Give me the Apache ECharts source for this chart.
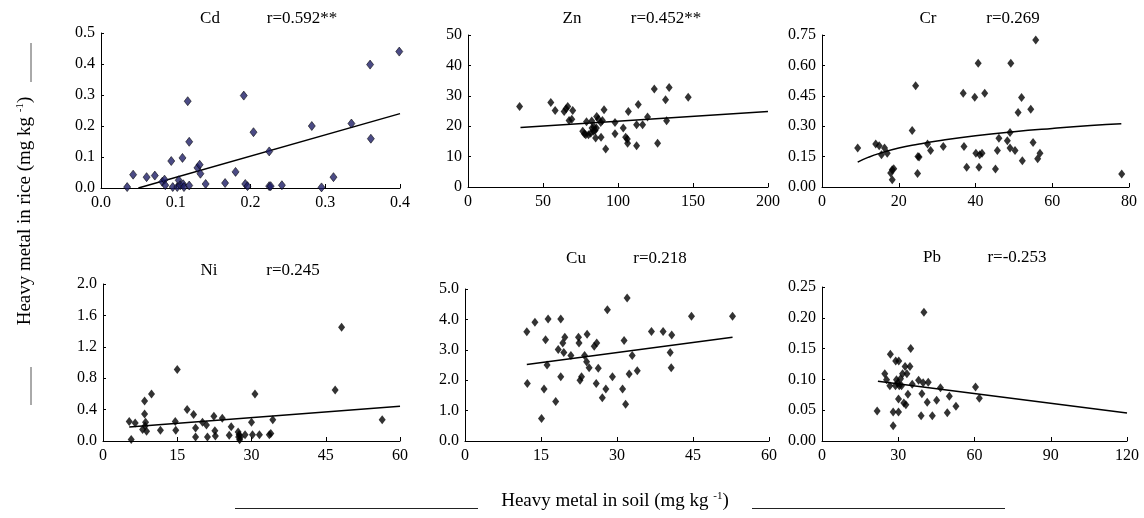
<!DOCTYPE html>
<html>
<head>
<meta charset="utf-8">
<script src="https://cdn.jsdelivr.net/npm/echarts@6/dist/echarts.min.js"></script>
<style>html,body{margin:0;padding:0;background:#fff;}#c{width:1144px;height:518px;}</style>
</head>
<body>
<div id="c"></div>
<script>
// ---- data (soil, rice) ----
const cdPoints = [[0.035,0.003],[0.043,0.043],[0.061,0.035],[0.072,0.04],[0.082,0.02],[0.085,0.027],[0.086,0.009],[0.094,0.087],[0.096,0.003],[0.102,0.003],[0.104,0.025],[0.106,0.009],[0.109,0.097],[0.11,0.012],[0.111,0.003],[0.116,0.28],[0.118,0.008],[0.118,0.149],[0.129,0.065],[0.132,0.075],[0.133,0.046],[0.14,0.013],[0.166,0.016],[0.18,0.052],[0.191,0.298],[0.193,0.013],[0.196,0.006],[0.204,0.18],[0.225,0.118],[0.225,0.006],[0.227,0.006],[0.242,0.009],[0.282,0.2],[0.295,0.002],[0.311,0.035],[0.335,0.208],[0.36,0.398],[0.361,0.159],[0.399,0.44]];
const cdTrend = [[0.05,0],[0.4,0.24]];

const znPoints = [[34.4,26.5],[55.2,27.8],[58.1,25.2],[64.1,24.8],[65.4,25.7],[66.5,26.5],[67.4,21.9],[69.2,22.3],[69.8,25.2],[76.5,18.3],[77.6,17.5],[78.5,17.2],[79,21.5],[80.3,17.2],[81.8,17.7],[82.5,21.7],[82.7,19.4],[83.6,18.3],[84,19.7],[84.7,18.6],[85.1,16.1],[85.6,19.4],[85.8,23.2],[86.9,22.4],[88.5,21.2],[88.7,16.4],[89.6,21.9],[90.7,25.4],[91.8,12.5],[98,21.2],[98,17.5],[103.5,19.4],[105.1,16.4],[106.2,15.8],[106.4,14.4],[106.9,24.8],[112.4,20.5],[112.4,13.6],[113.5,27.1],[116.4,20.5],[119.7,23],[124.2,32.2],[126.4,14.4],[131.7,28.7],[132.4,21.8],[134.1,32.7],[146.8,29.5]];
const znTrend = [[35,19.6],[200,24.8]];

const crPoints = [[9.3,0.192],[14,0.212],[14.9,0.204],[15.5,0.159],[16.3,0.192],[17,0.167],[17.9,0.069],[18.3,0.085],[18.3,0.036],[18.7,0.09],[23.5,0.279],[24.4,0.5],[24.9,0.066],[25,0.151],[25.3,0.148],[27.5,0.212],[28.3,0.18],[31.6,0.2],[36.8,0.463],[37,0.2],[37.7,0.097],[39.8,0.443],[40.1,0.167],[40.7,0.61],[40.9,0.097],[41.1,0.159],[41.7,0.167],[42.4,0.463],[45.2,0.089],[45.7,0.18],[46.1,0.241],[48.3,0.228],[49,0.269],[49,0.192],[49.2,0.61],[50.3,0.18],[51.1,0.368],[52.2,0.13],[52,0.441],[54.4,0.384],[55,0.22],[55.7,0.725],[56.2,0.14],[56.8,0.167],[78.1,0.064]];
const crTrend = [[9.3,0.123],[12,0.146],[15,0.166],[20,0.192],[25,0.211],[30,0.227],[40,0.253],[50,0.273],[60,0.289],[70,0.303],[78,0.312]];

const niPoints = [[5.3,0.25],[5.7,0.02],[6.5,0.23],[8,0.145],[8.4,0.51],[8.4,0.345],[8.5,0.19],[8.6,0.24],[8.8,0.124],[9.8,0.6],[11.6,0.136],[14.6,0.247],[14.7,0.136],[15,0.91],[17,0.4],[18.3,0.337],[18.7,0.166],[18.7,0.051],[20.1,0.24],[20.9,0.205],[21.1,0.051],[22.4,0.316],[22.6,0.132],[22.7,0.064],[24.1,0.29],[25.5,0.072],[25.9,0.18],[27.3,0.115],[27.4,0.051],[27.5,0.081],[27.6,0.017],[27.8,0.051],[28.7,0.081],[30,0.24],[30.2,0.081],[30.7,0.6],[31.6,0.081],[33.6,0.081],[33.9,0.094],[34.3,0.27],[46.9,0.65],[48.2,1.45],[56.4,0.27]];
const niTrend = [[5.3,0.179],[60,0.443]];

const cuPoints = [[12.2,3.59],[12.3,1.89],[13.8,3.91],[15.1,0.74],[15.6,1.71],[15.9,3.33],[16.2,2.5],[16.4,4.01],[17.9,1.3],[18.4,3.01],[18.9,4.01],[18.9,2.11],[19.3,3.22],[19.5,2.91],[19.7,3.41],[20.9,2.81],[22.4,3.41],[22.5,3.22],[22.7,2.0],[23,2.11],[23.6,2.81],[24,2.61],[24.1,3.51],[24.5,2.41],[25.5,3.12],[25.9,1.89],[26,3.22],[26.3,2.39],[27.1,1.42],[27.8,1.71],[28.1,4.32],[29.1,2.11],[31.1,1.71],[31.4,3.31],[31.7,1.21],[32,4.7],[32.4,2.2],[33,2.81],[34,2.31],[36.8,3.6],[39.1,3.6],[40.5,2.91],[40.7,2.41],[40.8,3.49],[44.7,4.1],[52.8,4.1]];
const cuTrend = [[12.2,2.52],[52.8,3.41]];

const pbPoints = [[21.7,0.0487],[24.7,0.109],[25.4,0.0996],[26.7,0.0898],[26.9,0.141],[28,0.0249],[28,0.047],[28.9,0.0898],[29,0.13],[29.3,0.0996],[29.8,0.094],[30.1,0.068],[30.1,0.047],[30.2,0.13],[30.4,0.0898],[30.9,0.101],[31.3,0.0898],[31.7,0.109],[32.2,0.0617],[32.7,0.121],[33,0.059],[33.4,0.109],[33.8,0.0758],[34.6,0.121],[34.9,0.15],[35.5,0.092],[38,0.0985],[39,0.041],[39.3,0.0768],[39.8,0.0947],[40.1,0.209],[41.4,0.0628],[41.8,0.0952],[43.4,0.041],[45.1,0.066],[46.6,0.0866],[49.3,0.046],[50.1,0.0725],[52.7,0.0563],[60.4,0.0877],[61.9,0.0693]];
const pbTrend = [[22,0.0969],[120,0.0455]];

const metals = ['Cd','Zn','Cr','Ni','Cu','Pb'];
const rLabels = ['r=0.592**','r=0.452**','r=0.269','r=0.245','r=0.218','r=-0.253'];
const xMax = [0.4,200,80,60,60,120];
const xStep = [0.1,50,20,15,15,30];
const xDec = [1,0,0,0,0,0];
const yMax = [0.5,50,0.75,2.0,5.0,0.25];
const yStep = [0.1,10,0.15,0.4,1.0,0.05];
const yDec = [1,0,2,1,1,2];
const allPoints = [cdPoints,znPoints,crPoints,niPoints,cuPoints,pbPoints];
const allTrends = [cdTrend,znTrend,crTrend,niTrend,cuTrend,pbTrend];

// ---- layout ----
const grids = [
  {left:101,top:33,width:299,height:155},
  {left:468,top:35,width:300,height:152},
  {left:822,top:35,width:307,height:152},
  {left:103,top:284,width:297,height:157},
  {left:465,top:289,width:304,height:152},
  {left:822,top:287,width:305,height:154}
];
const titlePos = [
  [210,19,302,19],[572,19,666,19],[928,19,1013,19],
  [209,271,293,271],[576,259,660,259],[932,258,1017,258]
];
const FONT = 'Liberation Serif, Times New Roman, serif';
const labelStyle = {fontFamily:FONT,fontSize:16,color:'#000'};
const axisLine = {show:true,onZero:false,lineStyle:{color:'#000',width:1}};

const xAxes=[],yAxes=[],series=[],graphic=[];
for(let i=0;i<6;i++){
  const xd=xDec[i], yd=yDec[i];
  xAxes.push({type:'value',gridIndex:i,min:0,max:xMax[i],interval:xStep[i],
    axisLine:axisLine,axisTick:{show:true,inside:true,length:4,lineStyle:{color:'#000'}},
    splitLine:{show:false},
    axisLabel:Object.assign({margin:7,showMinLabel:true,showMaxLabel:true,formatter:v=>v.toFixed(xd)},labelStyle)});
  yAxes.push({type:'value',gridIndex:i,min:0,max:yMax[i],interval:yStep[i],
    axisLine:axisLine,axisTick:{show:true,inside:true,length:3,lineStyle:{color:'#000'}},
    splitLine:{show:false},
    axisLabel:Object.assign({margin:6,formatter:v=>v.toFixed(yd)},labelStyle)});
  series.push({type:'scatter',xAxisIndex:i,yAxisIndex:i,data:allPoints[i],symbol:'diamond',symbolSize:[7,9],
    itemStyle: i===0 ? {color:'#1E1E66',borderColor:'#000',borderWidth:0.7} : {color:'#000'},
    emphasis:{disabled:true},z:3});
  series.push({type:'line',xAxisIndex:i,yAxisIndex:i,data:allTrends[i],showSymbol:false,smooth:i===2,
    lineStyle:{color:'#000',width:1.5},emphasis:{disabled:true},z:2});
  const tp=titlePos[i];
  graphic.push({type:'text',x:tp[0],y:tp[1],style:{text:metals[i],font:'17px '+FONT,fill:'#000',textAlign:'center',textVerticalAlign:'middle'}});
  graphic.push({type:'text',x:tp[2],y:tp[3],style:{text:rLabels[i],font:'17px '+FONT,fill:'#000',textAlign:'center',textVerticalAlign:'middle'}});
}

// axis titles
const supStyle = {sup:{fontSize:11,fontFamily:FONT,verticalAlign:'top',lineHeight:20,fill:'#000'}};
graphic.push({type:'text',x:25,y:211,rotation:Math.PI/2,style:{
  text:'Heavy metal in rice (mg kg {sup|-1})',font:'19px '+FONT,fill:'#000',textAlign:'center',textVerticalAlign:'middle',rich:supStyle}});
graphic.push({type:'text',x:615,y:501,style:{
  text:'Heavy metal in soil (mg kg {sup|-1})',font:'19px '+FONT,fill:'#000',textAlign:'center',textVerticalAlign:'middle',rich:supStyle}});
const vLine = {stroke:'#555',lineWidth:1};
const hLine = {stroke:'#222',lineWidth:1};
graphic.push({type:'line',shape:{x1:31,y1:43,x2:31,y2:82},style:vLine});
graphic.push({type:'line',shape:{x1:31,y1:367,x2:31,y2:405},style:vLine});
graphic.push({type:'line',shape:{x1:235,y1:508.5,x2:478,y2:508.5},style:hLine});
graphic.push({type:'line',shape:{x1:752,y1:508.5,x2:1005,y2:508.5},style:hLine});

const chart = echarts.init(document.getElementById('c'),null,{renderer:'canvas'});
chart.setOption({animation:false,grid:grids,xAxis:xAxes,yAxis:yAxes,series:series,graphic:graphic});
</script>
</body>
</html>
